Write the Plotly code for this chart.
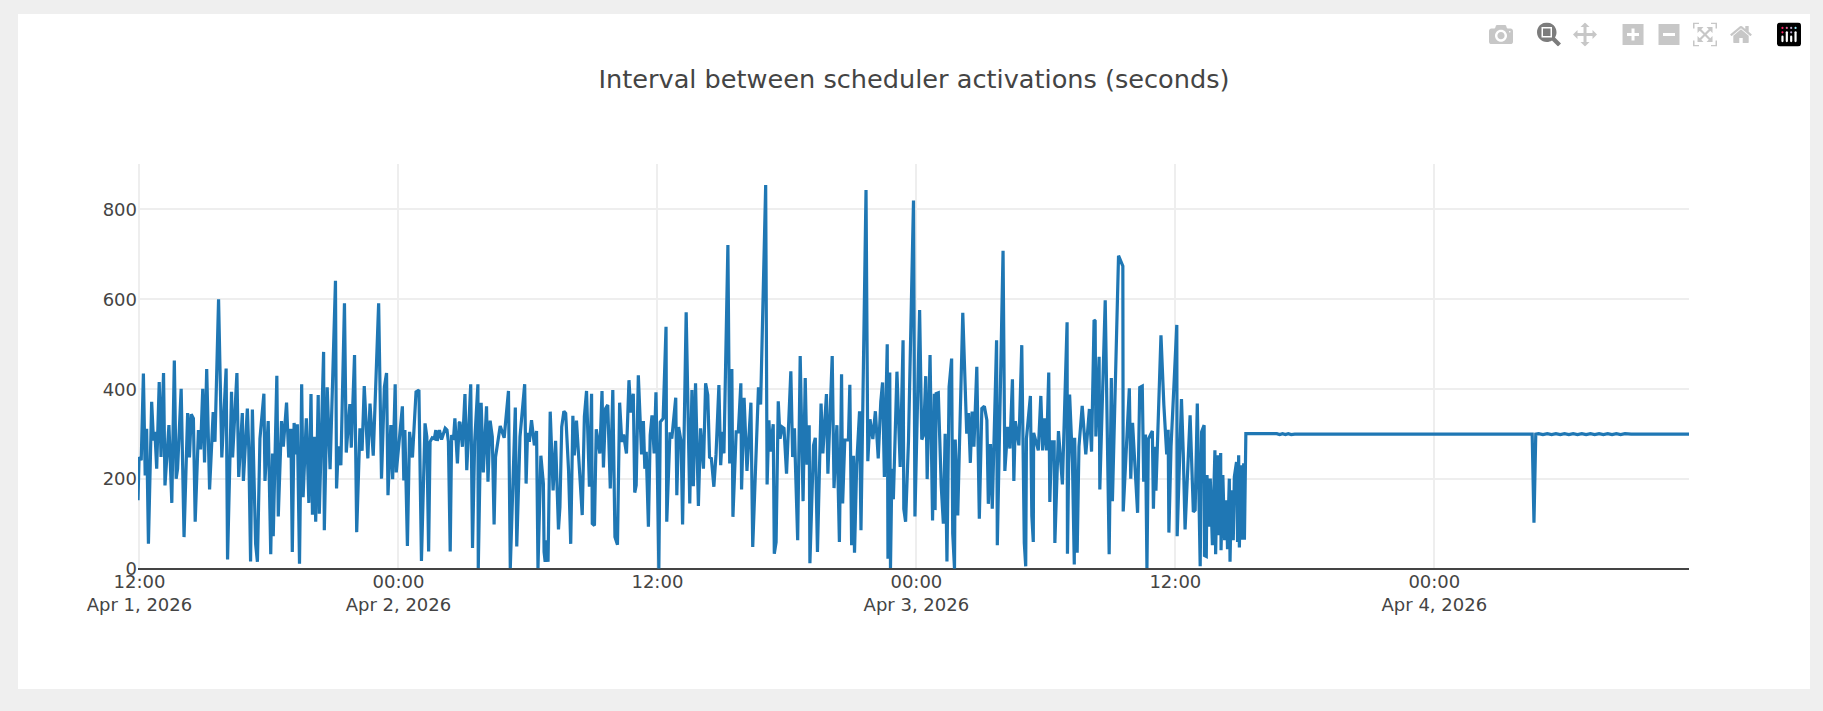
import pandas as pd
import plotly.graph_objects as go

TITLE = "Interval between scheduler activations (seconds)"
START = pd.Timestamp("2026-04-01 12:00:00")

# Minutes after START and the interval (seconds), section by section
min_a = [-4,-1,5,11,16,20,25,34,39,43,48,55,60,67,71,82,90,97,102,106,116,124,134,139,144,150,155,164,170,176,181,187,195,205,210,220,229,241,245,256,259,271,276,286,289,300,304,309,314,319,323,328,335,346,349,358,365,370,372,382,386,395,400,409,415,421,425,430]
sec_a = [153,249,242,435,208,312,56,372,286,305,223,416,249,436,186,320,147,464,201,223,401,71,347,248,344,335,105,309,266,401,237,445,177,349,283,600,248,446,21,394,248,436,205,347,196,357,266,17,355,205,56,16,290,390,196,329,33,257,73,430,117,329,272,370,248,312,38,325]

min_b = [433,439,445,451,455,464,471,477,481,486,490,497,500,512,514,522,530,545,548,553,560,570,575,585,589,598,604,613,619,625,635,641,650,665,673,681,687,691,699,704,711,714,731,735,738,745,751,759,769,777,780,784,794,799,804,808,814,820,824,828,834,840,850,855,859,864,868,873]
sec_b = [255,322,12,411,160,335,147,389,121,294,105,387,123,483,86,404,222,641,179,273,231,591,259,367,270,476,82,313,263,407,246,368,252,591,201,405,436,164,320,200,411,215,362,197,309,51,305,248,394,398,177,18,324,294,39,283,292,290,309,285,309,288,313,309,283,39,298,287]

min_c = [877,884,889,891,898,905,910,921,926,932,941,942,950,956,965,969,975,981,986,990,1003,1014,1026,1031,1045,1049,1058,1071,1075,1079,1084,1090,1098,1104,1108,1116,1123,1125,1128,1131,1136,1142,1150,1157,1165,1169,1174,1180,1185,1193,1199,1205,1209,1215,1231,1237,1243,1251,1257,1259,1265,1270,1280,1286,1290,1296,1302,1309,1316]
sec_c = [335,235,325,327,272,389,220,411,47,283,411,2,370,215,362,194,330,294,99,249,318,292,396,2,359,50,294,411,190,303,283,331,275,307,2,252,190,38,16,64,16,350,175,285,88,138,316,351,346,220,56,341,253,330,120,339,396,183,390,101,97,311,257,396,226,357,365,179,398]

min_d = [1322,1329,1335,1341,1346,1354,1361,1366,1373,1377,1381,1387,1396,1401,1405,1409,1415,1420,1425,1431,1436,1440,1444,1448,1456,1464,1466,1475,1480,1491,1494,1499,1506,1510,1520,1530,1536,1540,1546,1554,1560,1568,1574,1580,1585,1590,1597,1603,1611,1616,1621,1625,1636,1641,1647,1650,1659,1665,1672,1674,1681,1689,1700,1705,1721,1727,1741,1745,1750,1754,1762,1765]
sec_d = [71,54,370,283,299,257,420,348,390,170,186,431,255,329,223,261,94,298,342,257,393,212,1,327,335,539,105,304,290,381,164,316,283,99,571,146,398,184,413,140,313,223,413,387,249,246,183,255,409,231,305,257,721,235,445,116,305,305,413,177,381,218,370,49,404,366,854,188,331,261,322,34]

min_e = [1770,1776,1781,1787,1792,1799,1811,1816,1821,1824,1830,1837,1845,1851,1856,1862,1864,1874,1879,1885,1895,1900,1910,1914,1926,1931,1939,1946,1952,1955,1961,1971,1975,1980,1985,1988,1994,2002,2006,2020,2025,2031,2039,2046,2054,2061,2066,2071,2079,2081,2086,2088,2092,2096,2106,2115,2123,2125,2130,2138,2152,2156,2169,2175,2180,2186,2190,2198,2205,2210]
sec_e = [60,373,290,316,313,212,440,249,313,225,64,474,151,425,232,320,13,275,292,38,368,257,389,212,474,180,320,60,433,146,287,287,410,53,252,36,231,351,86,843,240,333,289,351,246,372,415,205,500,23,437,2,223,155,439,227,509,134,105,283,820,117,576,288,298,429,200,476,108,390]

min_f = [2212,2215,2221,2229,2235,2240,2245,2251,2258,2261,2266,2268,2275,2279,2289,2300,2305,2310,2315,2320,2328,2335,2342,2349,2356,2360,2366,2371,2383,2385,2401,2406,2414,2420,2427,2431,2435,2445,2453,2460,2464,2466,2477,2481,2485,2486,2499,2506,2511,2516,2522,2528,2531,2536,2543,2545,2555,2566,2579,2580,2586,2594,2599,2600,2607,2612,2621,2631,2641,2647,2654]
sec_f = [131,390,392,186,101,301,17,405,468,79,1,288,119,249,570,301,347,236,350,272,450,112,357,362,331,145,278,134,509,53,708,218,316,268,422,196,329,275,498,58,6,290,385,118,60,303,264,385,264,335,264,437,149,283,283,58,307,188,549,34,388,236,10,292,36,272,363,255,356,261,554]

min_g = [2657,2659,2668,2670,2685,2696,2702,2705,2722,2734,2735,2752,2756,2761,2775,2781,2788,2792,2797,2801,2805,2816,2819,2823,2826,2840,2848,2856,2860,2862,2868,2884,2885,2897,2902,2907,2921,2930,2935,2941,2949,2953,2960,2961,2966,2968,2973,2977,2983,2987,2990,2992,2997,3001,3006,3007,3012,3017,3022,3025,3030,3032,3036,3041,3044,3050,3053,3056,3058,3062,3065,3070,3072,3076]
sec_g = [552,295,472,177,598,33,425,151,697,674,128,402,201,325,125,404,407,194,299,2,289,307,134,272,174,520,365,255,310,81,272,543,73,378,257,88,342,127,131,368,6,305,320,30,28,209,94,201,53,180,264,33,253,75,258,42,209,64,153,44,201,16,175,64,205,238,60,253,48,231,65,235,65,301]

# Steady period, with the small wobble and the single dip
min_h = [3082,3090,3098,3106,3114,3122,3130,3138,3146,3154,3162,3170,3178,3186,3194,3202,3212,3872,3877,3882,3890,3902,3914,3926,3938,3950,3962,3974,3986,3998,4010,4022,4034,4046,4058,4070,4082,4094,4106,4118,4130,4147,4308]
sec_h = [301,301,300,301,300,300,301,300,301,300,301,299,301,299,301,299,300,300,103,300,301,299,301,299,301,299,301,299,301,299,301,299,301,299,301,299,301,299,301,299,301,300,300]

minutes = min_a + min_b + min_c + min_d + min_e + min_f + min_g + min_h
seconds = sec_a + sec_b + sec_c + sec_d + sec_e + sec_f + sec_g + sec_h
times = [START + pd.Timedelta(minutes=m) for m in minutes]

fig = go.Figure(go.Scatter(x=times, y=seconds, mode="lines",
                           line=dict(color="#1f77b4", width=3.2)))
fig.update_layout(
    template=None,
    width=1792, height=675,
    margin=dict(l=120, r=121, t=150, b=120, pad=0),
    paper_bgcolor="#ffffff", plot_bgcolor="#ffffff",
    font=dict(family="DejaVu Sans", size=18, color="#444"),
    title=dict(text=TITLE, x=0.5, xanchor="center", y=0.904, yanchor="middle",
               font=dict(family="DejaVu Sans", size=25.6, color="#444")),
    showlegend=False,
    xaxis=dict(type="date", showgrid=True, gridcolor="#eee", gridwidth=1.6, zeroline=False),
    yaxis=dict(range=[0, 901], showgrid=True, gridcolor="#eee", gridwidth=1.6,
               zeroline=True, zerolinecolor="#444", zerolinewidth=2,
               tickvals=[0, 200, 400, 600, 800]),
)
PAGE_JS = """
document.documentElement.style.background='#efefef';
document.body.style.background='#efefef';
document.body.style.margin='14px 0 0 18px';
var s=document.createElement('style');
s.textContent='.modebar{transform:translate(-1px,2px) scale(1.5);transform-origin:right top;}';
document.head.appendChild(s);
"""
fig.write_html(
    "out.html",
    config={"displayModeBar": True},
    default_width="1792px",
    default_height="675px",
    post_script=PAGE_JS,
)
